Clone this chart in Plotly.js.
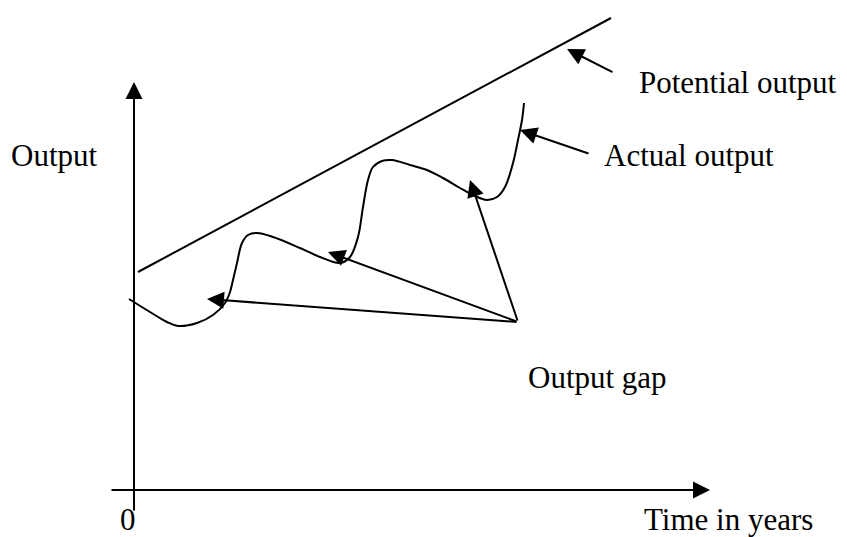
<!DOCTYPE html>
<html>
<head>
<meta charset="utf-8">
<script src="https://cdn.plot.ly/plotly-3.0.1.min.js"></script>
<style>html,body{margin:0;padding:0;background:#fff;}#chart{width:847px;height:537px;}</style>
</head>
<body>
<div id="chart"></div>
<script>
// Time (years, arbitrary units) and output values
const actualTime = [-0.5, 1.6, 3.3, 4.4, 6.3, 7.9, 9.1, 9.6, 9.9, 10.3, 10.8, 11.4, 12.3, 13.9, 16.6, 18.6, 20.6, 21.6, 22.4, 22.9, 23.4, 23.9, 24.8, 25.8, 27.6, 29.3, 30.9, 32.6, 33.9, 35.3, 36.3, 37.1, 37.9, 38.4, 38.8, 39.0];
const actualOutput = [19.1, 17.8, 16.8, 16.4, 16.7, 17.5, 18.7, 19.8, 21.0, 22.7, 24.7, 25.5, 25.7, 25.3, 24.2, 23.3, 22.7, 23.3, 25.3, 28.3, 31.0, 32.3, 32.9, 33.0, 32.5, 32.0, 31.2, 30.2, 29.5, 29.0, 29.3, 30.3, 32.7, 35.0, 37.0, 38.7];
const potentialTime = [0.4, 47.7];
const potentialOutput = [21.8, 47.2];

// Output-gap pointer: common origin and the points on the actual-output curve
const gapOrigin = [38.4, 16.8];
const gapTargetsTime = [7.3, 19.4, 33.6];
const gapTargetsOutput = [19.1, 23.8, 31.0];

// Label pointers: [tailTime, tailOutput, tipTime, tipOutput]
const potentialPointer = [48.0, 41.7, 43.3, 44.1];
const actualPointer = [45.6, 33.6, 38.6, 36.0];

// Axis extents
const xAxisExtent = [-2.4, 57.6];
const yAxisExtent = [-2.2, 40.8];

// Text labels
const labels = ["Potential output", "Actual output", "Output", "Output gap", "0", "Time in years"];
const labelTime = [50.5, 47.0, -12.3, 39.4, -1.4, 51.0];
const labelOutput = [40.8, 33.5, 33.5, 11.3, -2.9, -2.9];

const black = '#000';
const annotations = [];
function arrow(x0, y0, x1, y1, head) {
  annotations.push({
    x: x1, y: y1, ax: x0, ay: y0, xref: 'x', yref: 'y', axref: 'x', ayref: 'y',
    text: '', showarrow: true, arrowhead: head ? 2 : 0, arrowsize: 1.7, arrowwidth: 2,
    arrowcolor: black, standoff: 0, startstandoff: 0
  });
}
// axes
arrow(xAxisExtent[0], 0, xAxisExtent[1], 0, true);
arrow(0, yAxisExtent[0], 0, yAxisExtent[1], true);
// output gap pointers
for (let i = 0; i < gapTargetsTime.length; i++) {
  arrow(gapOrigin[0], gapOrigin[1], gapTargetsTime[i], gapTargetsOutput[i], true);
}
arrow(potentialPointer[0], potentialPointer[1], potentialPointer[2], potentialPointer[3], true);
arrow(actualPointer[0], actualPointer[1], actualPointer[2], actualPointer[3], true);
// labels
for (let i = 0; i < labels.length; i++) {
  annotations.push({
    x: labelTime[i], y: labelOutput[i], xref: 'x', yref: 'y', text: labels[i],
    showarrow: false, xanchor: 'left', yanchor: 'middle', borderpad: 0, borderwidth: 0,
    font: {family: '"Liberation Serif", "Times New Roman", serif', size: 31, color: black}
  });
}

const traces = [
  {x: potentialTime, y: potentialOutput, mode: 'lines', line: {color: black, width: 2}, hoverinfo: 'skip'},
  {x: actualTime, y: actualOutput, mode: 'lines', line: {color: black, width: 2, shape: 'spline', smoothing: 1}, hoverinfo: 'skip'}
];

const layout = {
  width: 847, height: 537,
  margin: {l: 0, r: 0, t: 0, b: 0},
  paper_bgcolor: '#fff', plot_bgcolor: '#fff',
  showlegend: false,
  xaxis: {range: [-13.4, 71.3], visible: false, fixedrange: true},
  yaxis: {range: [-4.7, 49.0], visible: false, fixedrange: true},
  annotations: annotations
};

Plotly.newPlot('chart', traces, layout, {staticPlot: true, displayModeBar: false});
</script>
</body>
</html>
